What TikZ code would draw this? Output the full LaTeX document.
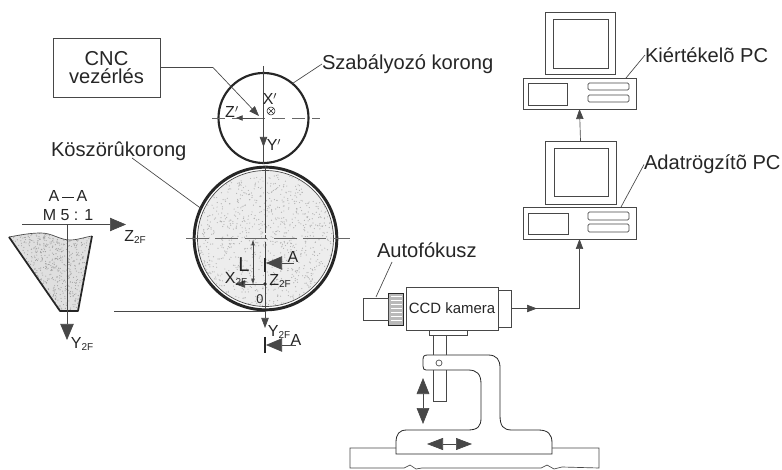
\documentclass[tikz,border=0pt]{standalone}
\usepackage{fontspec}
\setmainfont{Liberation Sans}
\usetikzlibrary{arrows.meta}
\definecolor{ink}{gray}{0.15}
\newcommand{\fbig}{\fontsize{15.1}{15.5}\selectfont}
\newcommand{\fmid}{\fontsize{12}{13}\selectfont}
\newcommand{\fsm}{\fontsize{9.5}{10}\selectfont}
\newcommand{\subt}[2]{#1\raisebox{-2.2pt}{\fontsize{7.5}{8}\selectfont #2}}
\tikzset{
  x=0.75pt,y=-0.75pt,
  every node/.style={text=ink,inner sep=0pt,outer sep=0pt},
  thinl/.style={line width=0.5pt,draw=ink!85},
  boxn/.style={draw=ink!85,line width=0.6pt,rectangle,minimum width=#1},
  bh/.style={minimum height=#1},
  lab/.style={anchor=west,font=\fbig},
  bigHead/.style={-{Stealth[length=12pt,width=10pt,inset=0pt]}},
  midHead/.style={-{Stealth[length=7.5pt,width=5.5pt,inset=0pt]}},
  smallHead/.style={-{Stealth[length=5pt,width=4pt,inset=0pt]}},
  centre/.style={line width=0.5pt,draw=ink!70,dash pattern=on 17pt off 5pt},
}
\begin{document}
\begin{tikzpicture}[color=ink]
\fill[white] (0,0) rectangle (782,470);
\useasboundingbox (0,0) rectangle (782,470);
% grinding wheel
\fill[gray!14] (265.5,238.5) circle (68);
\begin{scope}
\clip (265.5,238.5) circle (68);
\pgfmathsetseed{42}
\foreach \i in {1,...,1300}{
  \pgfmathsetmacro{\xa}{193+145*rnd}
  \pgfmathsetmacro{\ya}{166+145*rnd}
  \fill[gray!60] (\xa,\ya) circle (0.6);
}
\end{scope}
\node[circle,draw=ink,line width=2.2pt,minimum size=107pt] (bigw) at (265.5,238.5) {};
\draw[thinl] (265.5,238.5) circle (68);
% regulating wheel
\node[circle,draw=ink,line width=1.6pt,minimum size=67.5pt] (smallw) at (263.5,118) {};
% centre lines
\draw[centre,dash pattern=on 10pt off 5pt] (212,118) -- (320,118);
\draw[thinl] (263.5,66) -- (263.5,164);
\draw[centre] (186,238.5) -- (350,238.5);
\draw[thinl,dash pattern=on 50pt off 2pt on 3pt off 2pt] (265,166) -- (265,311);
% CNC
\node[boxn=80.25pt,bh=44.25pt,align=center,font=\fbig] (cnc) at (106.5,67.5) {CNC\\[-1.5pt]vezérlés};
\coordinate (cncbend) at (213,67.5);
\coordinate (xaxis) at (259,116);
\draw[thinl,midHead] (cnc.east) -- (cncbend) -- (xaxis);
% regulating wheel axes
\node[font=\fmid] (xp) at (270,99) {X$^{\prime}$};
\draw[line width=0.4pt] (271,111) circle (4);
\draw[line width=0.4pt] (268.2,108.2) -- (273.8,113.8) (268.2,113.8) -- (273.8,108.2);
\coordinate (zpa) at (256,118);
\coordinate (zpb) at (236,118);
\draw[thinl,smallHead] (zpa) -- (zpb);
\node[font=\fmid] (zp) at (232,112) {Z$^{\prime}$};
\coordinate (ypa) at (263.5,130);
\coordinate (ypb) at (263.5,147);
\draw[thinl,midHead] (ypa) -- (ypb);
\node[font=\fmid] (yp) at (274,145) {Y$^{\prime}$};
% labels
\node[lab] (szab) at (322,64) {Szabályozó korong};
\draw[thinl] (szab.west) -- (smallw.50);
\node[lab] (kosz) at (51,151) {Köszörûkorong};
\draw[thinl] (132,158) -- (bigw.155);
% grinding wheel details
\coordinate (origin) at (265,284);
\fill (origin) circle (1.8);
\coordinate (xf) at (235,284);
\draw[thinl,midHead] (origin) -- (xf);
\coordinate (la) at (253,240);
\coordinate (lb) at (253,284);
\draw[thinl,{Stealth[length=4pt,width=2.5pt,inset=0pt]}-{Stealth[length=4pt,width=2.5pt,inset=0pt]}] (la) -- (lb);
\node[font=\fbig] (ll) at (244,265) {L};
\node[font=\fmid] (xlab) at (236,279) {\subt{X}{2F}};
\node[font=\fmid] (zlab) at (280,281) {\subt{Z}{2F}};
\node[font=\fsm] (zero) at (260,299) {0};
\draw[line width=1pt] (265,258) -- (265,272);
\coordinate (a1) at (294,263);
\coordinate (a1t) at (266,263);
\draw[thinl,bigHead] (a1) -- (a1t);
\node[font=\fmid] (a1l) at (293,257) {A};
\coordinate (ya) at (265,311);
\coordinate (yb) at (265,328);
\draw[thinl,midHead] (ya) -- (yb);
\node[font=\fmid] (ylab) at (279,332) {\subt{Y}{2F}};
\draw[line width=1pt] (265,337) -- (265,353);
\coordinate (a2) at (296,345);
\coordinate (a2t) at (266,345);
\draw[thinl,bigHead] (a2) -- (a2t);
\node[font=\fmid] (a2l) at (296,340) {A};
\coordinate (zl) at (114,311);
\draw[thinl] (zl) -- (ya);
% section A-A
\node[font=\fmid] (aa) at (68,196) {A\,\raisebox{3pt}{\rule{9pt}{0.4pt}}\,A};
\node[font=\fmid] (mm) at (68,215) {M 5 : 1};
\fill[gray!25] (9,237) .. controls (20,235) and (30,233) .. (41,233) .. controls (52,233) and (60,240) .. (70,240) .. controls (78,240) and (85,237) .. (92,236) -- (78,311) -- (60,311) -- cycle;
\begin{scope}
\clip (9,237) .. controls (20,235) and (30,233) .. (41,233) .. controls (52,233) and (60,240) .. (70,240) .. controls (78,240) and (85,237) .. (92,236) -- (78,311) -- (60,311) -- cycle;
\pgfmathsetseed{7}
\foreach \i in {1,...,900}{
  \pgfmathsetmacro{\xa}{9+83*rnd}
  \pgfmathsetmacro{\ya}{232+80*rnd}
  \fill[gray!75] (\xa,\ya) circle (0.55);
}
\end{scope}
\draw[thinl] (9,237) .. controls (20,235) and (30,233) .. (41,233) .. controls (52,233) and (60,240) .. (70,240) .. controls (78,240) and (85,237) .. (92,236);
\draw[line width=1.3pt,line join=round] (9,237) -- (60,311) -- (78,311) -- (92,236);
\coordinate (sa) at (22,224.5);
\coordinate (sb) at (126,224.5);
\draw[thinl,bigHead] (sa) -- (sb);
\node[font=\fmid] (zs) at (135,237) {\subt{Z}{2F}};
\coordinate (sc) at (67,224.5);
\coordinate (sd) at (67,340);
\draw[thinl,bigHead] (sc) -- (sd);
\node[font=\fmid] (ys) at (82,344) {\subt{Y}{2F}};
% stand
\draw[thinl] (433,335) -- (433,355) (446,335) -- (446,355);
\draw[line width=0.6pt,fill=white] (423,360) .. controls (423,356) and (424,355) .. (428,355) -- (488,355) .. controls (497,355) and (500,360) .. (500,368) -- (500,415) .. controls (500,426) and (503,430) .. (512,430) -- (538,430) .. controls (548,430) and (552,434) .. (552,443) -- (552,454) -- (396,454) -- (396,443) .. controls (396,434) and (399,430) .. (407,430) -- (468,430) .. controls (478,430) and (481,426) .. (481,418) -- (481,384) .. controls (481,374) and (477,370) .. (468,370) -- (426,370) .. controls (424,370) and (423,369) .. (423,366) -- cycle;
\draw[thinl] (433,370) -- (433,401) -- (446,401) -- (446,370);
\draw[thinl] (439,363) circle (3);
% camera
\node[boxn=69pt,bh=32.25pt,font=\fontsize{11.2}{12}\selectfont] (cam) at (452,308.5) {CCD kamera};
\node[boxn=9.75pt,bh=27.75pt,anchor=west] (rear) at (cam.east) {};
\node[draw=ink,fill=gray!55,line width=0.5pt,rectangle,minimum width=11.25pt,minimum height=24pt] (knurl) at (396,309) {};
\foreach \yy in {296,300,...,322}{\draw[white,line width=0.5pt] (391,\yy) -- (402,\yy);}
\node[boxn=18.75pt,bh=16.5pt,anchor=east] (lens) at (knurl.west) {};
\node[lab] (auto) at (377,250) {Autofókusz};
\draw[thinl] (376,297) -- (392,262);
\node[boxn=28.5pt,bh=3.75pt,anchor=north] (mount) at (448,330) {};
\coordinate (va) at (423,378);
\coordinate (vb) at (423,424);
\draw[thinl,{Stealth[length=12pt,width=9.5pt,inset=0pt]}-{Stealth[length=12pt,width=9.5pt,inset=0pt]}] (va) -- (vb);
\coordinate (ha) at (427,444);
\coordinate (hb) at (472,444);
\draw[thinl,{Stealth[length=12pt,width=9pt,inset=0pt]}-{Stealth[length=12pt,width=9pt,inset=0pt]}] (ha) -- (hb);
% rail
\draw[thinl] (396,448) -- (350,448) -- (350,468) -- (404,468) -- (410,465) -- (416,469) -- (422,468) -- (541,468) -- (547,465) -- (554,469) -- (562,467) -- (599,468) -- (599,448) -- (552,448);
% PCs
\node[boxn=84.75pt,bh=23.25pt] (pcbase1) at (579.5,93.5) {};
\node[boxn=52.5pt,bh=47pt] (mon1) at (580,43.5) {};
\draw[thinl] (553,19) rectangle (608,68);
\draw[thinl] (528,83) rectangle (567,105);
\draw[thinl,rounded corners=1pt] (588,83) rectangle (629,90);
\draw[thinl,rounded corners=1pt] (588,95) rectangle (629,102);
\node[boxn=84.75pt,bh=24pt] (pcbase2) at (579.5,223) {};
\node[boxn=53.25pt,bh=47.25pt] (mon2) at (580.5,172.5) {};
\draw[thinl] (554,148) rectangle (608,196);
\draw[thinl] (528,213) rectangle (568,234);
\draw[thinl,rounded corners=1pt] (588,212) rectangle (629,220);
\draw[thinl,rounded corners=1pt] (588,224) rectangle (629,232);
\draw[thinl,midHead] (mon2.north) -- (pcbase1.south);
\draw[thinl,midHead] (rear.east) -- ++(26,0);
\draw[thinl,midHead] (rear.east) -| (pcbase2.south);
\node[lab] (kiert) at (645,55) {Kiértékelõ PC};
\draw[thinl] (626,78) -- (kiert.west);
\node[lab] (adat) at (644,164.5) {Adatrögzítõ PC};
\draw[thinl] (621,207) -- (adat.west);
\end{tikzpicture}
\end{document}
